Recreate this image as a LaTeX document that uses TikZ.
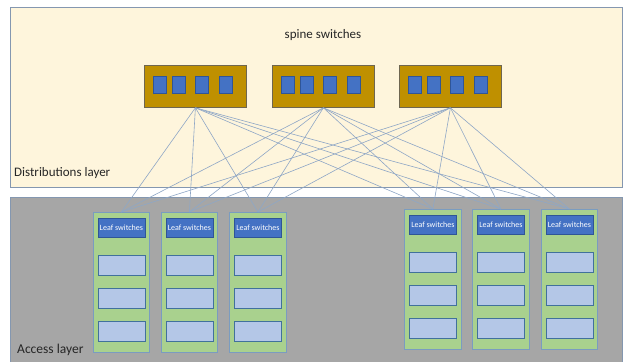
\documentclass[tikz,border=0pt]{standalone}
\usepackage{fontspec}
\setmainfont{Carlito}
\definecolor{topfill}{HTML}{FEF5DC}
\definecolor{bottomfill}{HTML}{A6A6A6}
\definecolor{panelborder}{HTML}{8497B0}
\definecolor{spinefill}{HTML}{BF9000}
\definecolor{spineborder}{HTML}{6E6650}
\definecolor{portfill}{HTML}{4472C4}
\definecolor{portborder}{HTML}{2F5597}
\definecolor{leaffill}{HTML}{A9D18E}
\definecolor{leafborder}{HTML}{7A9CC0}
\definecolor{headfill}{HTML}{4472C4}
\definecolor{headborder}{HTML}{2F5597}
\definecolor{slotfill}{HTML}{B4C7E7}
\definecolor{slotborder}{HTML}{41719C}
\definecolor{linkcol}{HTML}{8EA6C6}
\begin{document}
\begin{tikzpicture}[x=1pt,y=-1pt,
 panel/.style={draw=panelborder, line width=1pt, inner sep=0pt, anchor=north west},
 spinebox/.style={draw=spineborder, fill=spinefill, line width=0.8pt, minimum width=102pt, minimum height=42pt, inner sep=0pt, anchor=north west},
 port/.style={draw=portborder, fill=portfill, line width=0.5pt, minimum width=13pt, minimum height=17pt, inner sep=0pt},
 leafcol/.style={draw=leafborder, fill=leaffill, line width=0.8pt, minimum width=56pt, minimum height=140pt, inner sep=0pt, anchor=north west},
 leafhead/.style={fill=headfill, draw=headborder, line width=0.5pt, text=white, font=\fontsize{8}{9}\selectfont, minimum width=47pt, minimum height=19pt, inner sep=0pt},
 slot/.style={fill=slotfill, draw=slotborder, line width=0.8pt, minimum width=47pt, minimum height=20pt, inner sep=0pt},
 link/.style={draw=linkcol, line width=0.6pt},
 label/.style={font=\fontsize{13}{15}\selectfont, text=black!85, inner sep=0pt}]
\useasboundingbox (0,0) rectangle (625,362);
\fill[white] (0,0) rectangle (625,362);
% panels
\node[panel, fill=topfill, minimum width=612pt, minimum height=180pt] (top) at (10,7) {};
\node[panel, fill=bottomfill, minimum width=612pt, minimum height=170pt] (bottom) at (10,197) {};
% labels
\node[label] (spinelabel) at (323,35) {spine switches};
\node[label, anchor=west] (distlabel) at (14,173) {Distributions layer};
\node[label, anchor=west, font=\fontsize{13.5}{15}\selectfont] (accesslabel) at (17,350) {Access layer};
% spine switches
\node[spinebox] (S1) at (144,65) {};
\node[spinebox] (S2) at (272,65) {};
\node[spinebox] (S3) at (399,65) {};
% leaf columns
\node[leafcol] (L1) at (93,212) {};
\node[leafcol] (L2) at (161,212) {};
\node[leafcol, minimum width=57pt] (L3) at (229,212) {};
\node[leafcol, minimum width=57pt] (L4) at (404,209) {};
\node[leafcol, minimum width=57pt] (L5) at (472,209) {};
\node[leafcol] (L6) at (541,209) {};
% links
\foreach \s in {S1,S2,S3}{
  \foreach \l in {L1,L2,L3,L4,L5,L6}{
    \draw[link] (\s.south) -- (\l.north);
  }
}
% ports
\foreach \s in {S1,S2,S3}{
  \foreach \o [count=\i] in {16,35,58,82}{
    \node[port] (\s p\i) at ([xshift=\o pt, yshift=-19.5pt]\s.north west) {};
  }
}
% leaf contents
\foreach \l in {L1,L2,L3,L4,L5,L6}{
  \node[leafhead, anchor=north] (\l h) at ([yshift=-6pt]\l.north) {Leaf switches};
  \node[slot, anchor=north] (\l a) at ([yshift=-43pt]\l.north) {};
  \node[slot, anchor=north] (\l b) at ([yshift=-76pt]\l.north) {};
  \node[slot, anchor=north] (\l c) at ([yshift=-109pt]\l.north) {};
}
\end{tikzpicture}
\end{document}
